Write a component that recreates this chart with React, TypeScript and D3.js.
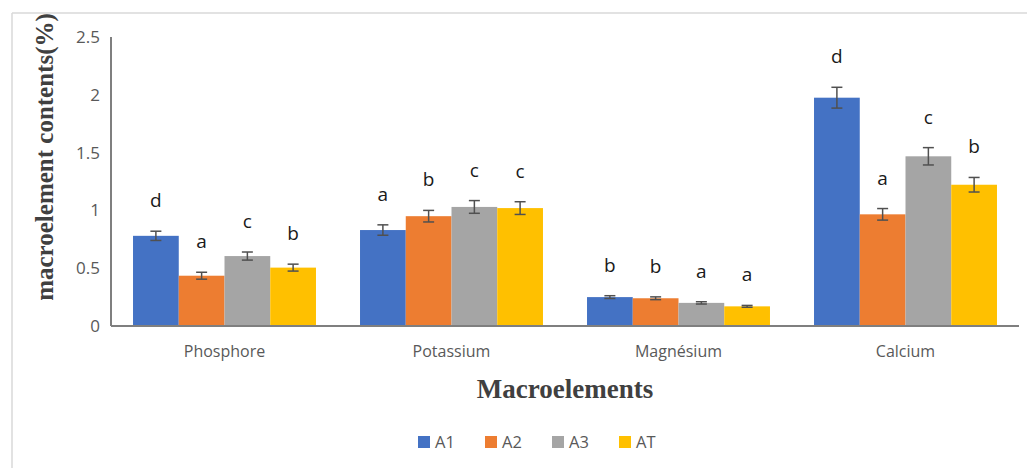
import React from "react";
import * as d3 from "d3";

const categories = ["Phosphore", "Potassium", "Magnésium", "Calcium"];
const seriesNames = ["A1", "A2", "A3", "AT"];
const colors = ["#4472C4", "#ED7D31", "#A5A5A5", "#FFC000"];
const valuesA1 = [0.78, 0.83, 0.25, 1.975];
const valuesA2 = [0.435, 0.95, 0.24, 0.966];
const valuesA3 = [0.605, 1.03, 0.2, 1.468];
const valuesAT = [0.505, 1.02, 0.17, 1.222];
const errA1 = [0.04, 0.045, 0.012, 0.09];
const errA2 = [0.03, 0.05, 0.012, 0.05];
const errA3 = [0.035, 0.055, 0.01, 0.075];
const errAT = [0.03, 0.055, 0.008, 0.063];
const lettersA1 = ["d", "a", "b", "d"];
const lettersA2 = ["a", "b", "b", "a"];
const lettersA3 = ["c", "c", "a", "c"];
const lettersAT = ["b", "c", "a", "b"];
const yTicks = [0, 0.5, 1, 1.5, 2, 2.5];

const values = [valuesA1, valuesA2, valuesA3, valuesAT];
const errs = [errA1, errA2, errA3, errAT];
const letters = [lettersA1, lettersA2, lettersA3, lettersAT];

export default function App() {
  const W = 1027, H = 468;
  const left = 111, right = 1019, top = 37, bottom = 326;
  const x0 = d3.scaleBand<string>().domain(categories).range([left, right]).paddingInner(0.194).paddingOuter(0.097);
  const x1 = d3.scaleBand<string>().domain(seriesNames).range([0, x0.bandwidth()]).padding(0);
  const y = d3.scaleLinear().domain([0, 2.5]).range([bottom, top]);
  const sans = "'Open Sans', sans-serif";
  const serif = "'Liberation Serif', 'Times New Roman', serif";
  return (
    <svg width={W} height={H} style={{ position: "absolute", left: 0, top: 0, background: "#fff" }}>
      <rect x={0} y={0} width={W} height={H} fill="#fff" />
      <line x1={12} y1={13} x2={W} y2={13} stroke="#d9d9d9" strokeWidth={1.5} />
      <line x1={12} y1={13} x2={12} y2={H} stroke="#d9d9d9" strokeWidth={1.5} />
      {yTicks.map((t) => (
        <text key={t} x={100} y={y(t)} dy="0.35em" textAnchor="end" fontFamily={sans} fontSize={17} fill="#595959">
          {t}
        </text>
      ))}
      {categories.map((c, ci) =>
        seriesNames.map((s, si) => {
          const v = values[si][ci];
          const e = errs[si][ci];
          const bx = (x0(c) as number) + (x1(s) as number);
          const bw = x1.bandwidth();
          const cx = bx + bw / 2;
          return (
            <g key={c + s}>
              <rect x={bx} y={y(v)} width={bw} height={bottom - y(v)} fill={colors[si]} />
              <line x1={cx} x2={cx} y1={y(v + e)} y2={y(v - e)} stroke="#505050" strokeWidth={1.5} />
              <line x1={cx - 5.5} x2={cx + 5.5} y1={y(v + e)} y2={y(v + e)} stroke="#505050" strokeWidth={1.5} />
              <line x1={cx - 5.5} x2={cx + 5.5} y1={y(v - e)} y2={y(v - e)} stroke="#505050" strokeWidth={1.5} />
              <text x={cx} y={y(v + e) - 24} textAnchor="middle" fontFamily={sans} fontSize={19} fill="#1a1a1a">
                {letters[si][ci]}
              </text>
            </g>
          );
        })
      )}
      <line x1={left} x2={left} y1={top} y2={bottom} stroke="#7f7f7f" strokeWidth={2} />
      <line x1={left} x2={right} y1={bottom} y2={bottom} stroke="#7f7f7f" strokeWidth={2} />
      {categories.map((c) => (
        <text key={c} x={(x0(c) as number) + x0.bandwidth() / 2} y={357} textAnchor="middle" fontFamily={sans} fontSize={16} fill="#595959">
          {c}
        </text>
      ))}
      <text transform={`translate(53,157) rotate(-90)`} textAnchor="middle" fontFamily={serif} fontWeight="bold" fontSize={25} fill="#404040">
        macroelement contents(%)
      </text>
      <text x={565} y={398} textAnchor="middle" fontFamily={serif} fontWeight="bold" fontSize={27} fill="#404040">
        Macroelements
      </text>
      {seriesNames.map((s, i) => (
        <g key={s} transform={`translate(${418 + i * 67},436)`}>
          <rect x={0} y={0} width={12} height={12} fill={colors[i]} />
          <text x={17} y={12} fontFamily={sans} fontSize={16.5} fill="#595959">
            {s}
          </text>
        </g>
      ))}
    </svg>
  );
}
